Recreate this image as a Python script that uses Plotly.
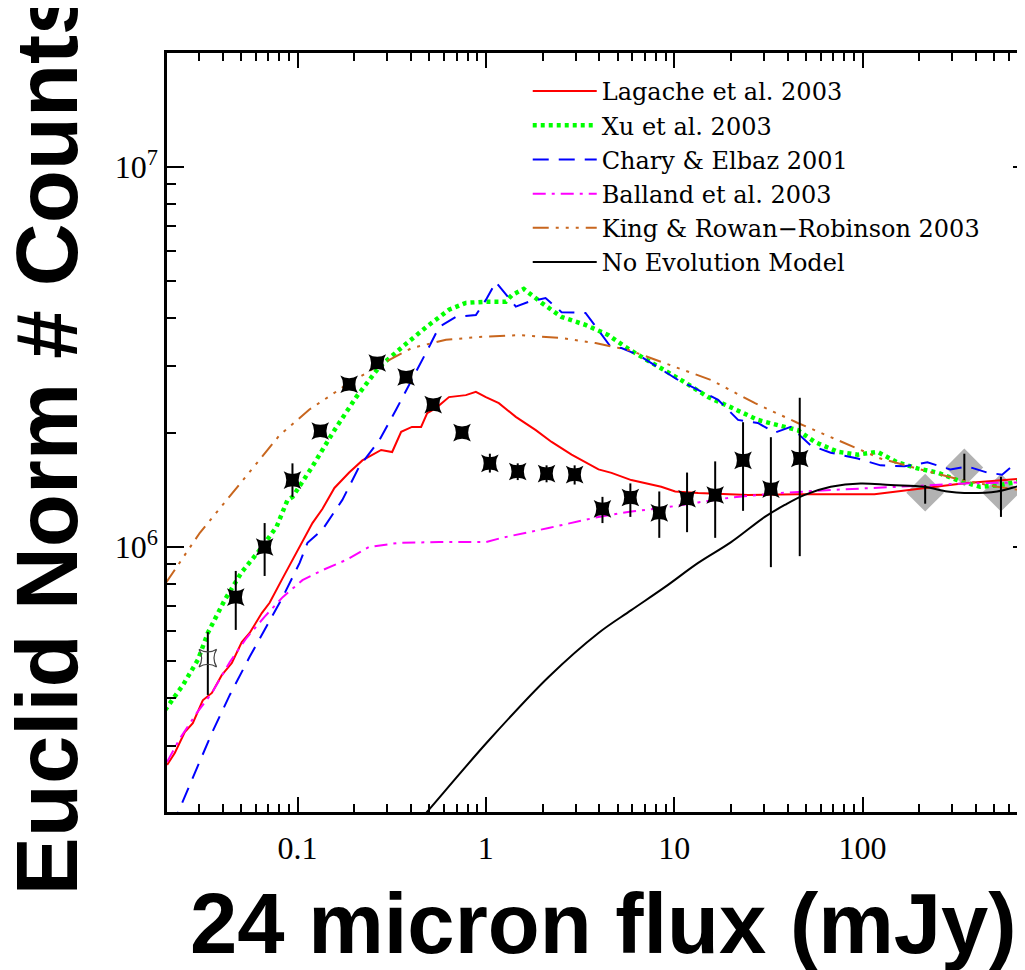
import plotly.graph_objects as go

# ---------------- data ----------------
lag_x = [0.0203, 0.0223, 0.0252, 0.0278, 0.0314, 0.0351, 0.0396, 0.0448, 0.0506, 0.0557,
         0.0646, 0.0711, 0.0834, 0.0989, 0.120, 0.1355, 0.157, 0.188, 0.221, 0.278,
         0.318, 0.355, 0.405, 0.453, 0.488, 0.543, 0.637, 0.783, 0.885, 1.0,
         1.172, 1.442, 1.841, 2.234, 2.851, 3.963, 4.645, 5.916, 8.531, 10.12,
         13.4, 24.66, 45.29, 115.6, 229.1, 346.7, 780]
lag_y = [2.67e5, 2.87e5, 3.26e5, 3.44e5, 3.95e5, 4.13e5, 4.60e5, 4.95e5, 5.62e5, 5.94e5,
         6.70e5, 7.13e5, 8.28e5, 9.64e5, 1.156e6, 1.259e6, 1.43e6, 1.57e6, 1.69e6, 1.80e6,
         1.778e6, 2.01e6, 2.07e6, 2.07e6, 2.25e6, 2.32e6, 2.48e6, 2.51e6, 2.56e6, 2.48e6,
         2.39e6, 2.20e6, 2.03e6, 1.89e6, 1.75e6, 1.60e6, 1.567e6, 1.50e6, 1.44e6, 1.40e6,
         1.387e6, 1.371e6, 1.377e6, 1.377e6, 1.439e6, 1.472e6, 1.52e6]

xu_x = [0.0198, 0.0247, 0.0296, 0.0334, 0.0411, 0.0506, 0.0630, 0.0774, 0.0885, 0.0942,
        0.120, 0.157, 0.205, 0.272, 0.360, 0.482, 0.637, 0.783, 1.0, 1.276,
        1.374, 1.589, 1.977, 2.523, 3.381, 4.477, 5.508, 6.457, 10.89, 15.14,
        20.04, 27.8, 38.64, 45.29, 55.72, 73.79, 94.2, 120, 153.1, 195.4,
        249.5, 318.4, 420.7, 537, 780]
xu_y = [3.72e5, 4.34e5, 5.05e5, 5.94e5, 7.26e5, 8.59e5, 9.82e5, 1.13e6, 1.33e6, 1.355e6,
        1.63e6, 2.03e6, 2.48e6, 2.98e6, 3.36e6, 3.79e6, 4.21e6, 4.39e6, 4.42e6, 4.42e6,
        4.60e6, 4.78e6, 4.39e6, 4.03e6, 3.84e6, 3.61e6, 3.36e6, 3.20e6, 2.75e6, 2.48e6,
        2.33e6, 2.16e6, 2.07e6, 2.03e6, 1.89e6, 1.78e6, 1.75e6, 1.78e6, 1.67e6, 1.61e6,
        1.57e6, 1.50e6, 1.44e6, 1.455e6, 1.51e6]

chary_x = [0.01905, 0.0232, 0.0278, 0.0351, 0.0437, 0.0557, 0.0668, 0.0834, 0.1026, 0.113,
           0.1355, 0.173, 0.213, 0.272, 0.334, 0.405, 0.499, 0.564, 0.693, 0.885,
           1.0, 1.13, 1.442, 1.69, 2.075, 2.523, 3.381, 3.963, 4.645, 5.248,
           6.457, 10.5, 13.4, 17.1, 21.83, 27.8, 34.2, 41.6, 53.09, 67.76,
           94.2, 124.5, 166.7, 220.8, 292.4, 359.7, 458.1, 550.8, 622.3, 703, 780]
chary_y = [1.59e5, 2.0e5, 2.48e5, 3.24e5, 4.08e5, 5.14e5, 6.05e5, 7.38e5, 9.08e5, 1.026e6,
           1.11e6, 1.33e6, 1.63e6, 1.91e6, 2.30e6, 2.75e6, 3.36e6, 3.79e6, 4.03e6, 4.08e6,
           4.47e6, 4.98e6, 4.29e6, 4.42e6, 4.52e6, 4.15e6, 4.13e6, 3.72e6, 3.34e6, 3.34e6,
           3.20e6, 2.75e6, 2.59e6, 2.44e6, 2.16e6, 2.12e6, 2.0e6, 2.07e6, 1.85e6, 1.77e6,
           1.71e6, 1.64e6, 1.63e6, 1.67e6, 1.60e6, 1.63e6, 1.57e6, 1.55e6, 1.63e6, 1.67e6, 1.66e6]

bal_x = [0.0203, 0.0238, 0.0292, 0.0351, 0.0437, 0.0537, 0.0668, 0.0834, 0.1062, 0.1355,
         0.1816, 0.240, 0.347, 0.564, 1.0, 1.216, 2.153, 3.963, 5.916, 8.954,
         13.4, 20.04, 36.81, 67.76, 153.1, 346.7, 780]
bal_y = [2.72e5, 3.14e5, 3.66e5, 4.13e5, 4.98e5, 5.77e5, 6.55e5, 7.38e5, 8.18e5, 8.69e5,
         9.25e5, 1.0e6, 1.026e6, 1.03e6, 1.03e6, 1.057e6, 1.122e6, 1.20e6, 1.24e6, 1.27e6,
         1.31e6, 1.35e6, 1.387e6, 1.413e6, 1.44e6, 1.47e6, 1.48e6]

king_x = [0.0200, 0.0303, 0.0421, 0.0804, 0.1156, 0.1816, 0.272, 0.405, 0.614, 0.918,
          1.496, 2.523, 3.819, 5.715, 15.7, 26.85, 45.29, 73.79, 124.5, 202.8,
          318.4, 517.6, 780]
king_y = [8.04e5, 1.09e6, 1.33e6, 1.97e6, 2.30e6, 2.67e6, 3.01e6, 3.34e6, 3.51e6, 3.57e6,
          3.61e6, 3.55e6, 3.44e6, 3.30e6, 2.75e6, 2.39e6, 2.12e6, 1.91e6, 1.71e6, 1.60e6,
          1.51e6, 1.44e6, 1.40e6]

noev_x = [0.398, 0.488, 1.038, 2.153, 3.963, 5.916, 8.954, 13.4, 20.04, 30.27,
          38.64, 49.32, 67.76, 97.5, 140.6, 212.8, 281.8, 346.7, 517.6, 703, 780]
noev_y = [1.79e5, 2.01e5, 3.10e5, 4.55e5, 5.94e5, 6.82e5, 7.85e5, 9.08e5, 1.03e6, 1.20e6,
          1.29e6, 1.371e6, 1.44e6, 1.47e6, 1.455e6, 1.44e6, 1.40e6, 1.387e6, 1.40e6, 1.455e6,
          1.47e6]

# measured counts (filled stars) with upper / lower error limits
star_x = [0.047, 0.0669, 0.094, 0.132, 0.188, 0.265, 0.377, 0.525, 0.747, 1.05,
          1.476, 2.1, 2.96, 4.16, 5.85, 8.33, 11.7, 16.5, 23.2, 32.6, 46.4]
star_y = [7.38e5, 1.0e6, 1.5e6, 2.02e6, 2.68e6, 3.05e6, 2.80e6, 2.37e6, 2.0e6, 1.66e6,
          1.58e6, 1.56e6, 1.55e6, 1.26e6, 1.35e6, 1.23e6, 1.34e6, 1.37e6, 1.69e6, 1.42e6, 1.71e6]
star_hi = [8.65e5, 1.156e6, 1.66e6, 2.08e6, 2.74e6, 3.12e6, 2.87e6, 2.43e6, 2.06e6, 1.76e6,
           1.66e6, 1.64e6, 1.64e6, 1.355e6, 1.47e6, 1.40e6, 1.57e6, 1.68e6, 2.13e6, 1.945e6, 2.47e6]
star_lo = [6.05e5, 8.39e5, 1.355e6, 1.96e6, 2.62e6, 2.98e6, 2.73e6, 2.31e6, 1.94e6, 1.57e6,
           1.50e6, 1.48e6, 1.46e6, 1.156e6, 1.20e6, 1.057e6, 1.094e6, 1.057e6, 1.245e6, 8.85e5, 9.46e5]

# open star (faintest bin)
ostar_x = [0.0334]
ostar_y = [5.1e5]
ostar_hi = [5.97e5]
ostar_lo = [4.08e5]

# bright-end points (grey diamonds)
dia_x = [215, 347, 543]
dia_y = [1.39e6, 1.62e6, 1.39e6]
dia_hi = [1.455e6, 1.76e6, 1.53e6]
dia_lo = [1.30e6, 1.50e6, 1.20e6]

x_tickvals = [0.1, 1, 10, 100]
x_ticktext = ["0.1", "1", "10", "100"]
y_tickvals = [1e6, 1e7]
y_ticktext = ["10<sup>6</sup>", "10<sup>7</sup>"]

series = [
    ("Lagache et al. 2003", lag_x, lag_y, "#ff0000", "solid", 2, "linear"),
    ("Xu et al. 2003", xu_x, xu_y, "#00ff00", "4px,4px", 4.5, "linear"),
    ("Chary & Elbaz 2001", chary_x, chary_y, "#0000ff", "16px,10px", 2, "linear"),
    ("Balland et al. 2003", bal_x, bal_y, "#ff00ff", "13px,6px,3px,6px", 2, "linear"),
    ("King & Rowan\u2212Robinson 2003", king_x, king_y, "#c8661e",
     "16px,7px,3px,7px,3px,7px,3px,7px", 2, "linear"),
    ("No Evolution Model", noev_x, noev_y, "#000000", "solid", 2, "spline"),
]


def err(y, hi, lo):
    return dict(type="data", symmetric=False,
                array=[h - v for h, v in zip(hi, y)],
                arrayminus=[v - l for v, l in zip(y, lo)],
                color="black", thickness=2, width=0)


fig = go.Figure()

# grey diamonds (under the model lines)
fig.add_trace(go.Scatter(x=dia_x, y=dia_y, mode="markers", showlegend=False,
                         marker=dict(symbol="diamond", size=29, color="rgb(178,178,178)",
                                     line=dict(width=0)), hoverinfo="skip"))

for name, xs, ys, col, dash, w, shape in series:
    fig.add_trace(go.Scatter(x=xs, y=ys, mode="lines", name=name,
                             line=dict(color=col, dash=dash, width=w, shape=shape)))

# error bars of the diamonds on top of them
fig.add_trace(go.Scatter(x=dia_x, y=dia_y, mode="markers", showlegend=False,
                         marker=dict(size=1, color="rgba(0,0,0,0)"),
                         error_y=err(dia_y, dia_hi, dia_lo)))

fig.add_trace(go.Scatter(x=ostar_x, y=ostar_y, mode="markers", showlegend=False,
                         marker=dict(symbol="star-square-open", size=16, color="#444444",
                                     line=dict(width=1.2, color="#444444")),
                         error_y=err(ostar_y, ostar_hi, ostar_lo)))

fig.add_trace(go.Scatter(x=star_x, y=star_y, mode="markers", showlegend=False,
                         marker=dict(symbol="star-square", size=16, color="black",
                                     line=dict(width=0)),
                         error_y=err(star_y, star_hi, star_lo)))

tickfont = dict(family="Liberation Serif, Times New Roman, serif", size=32, color="black")

fig.update_xaxes(type="log", range=[-1.693, 2.889],
                 tickmode="array", tickvals=x_tickvals, ticktext=x_ticktext,
                 ticks="inside", ticklen=15, tickwidth=2, tickcolor="black",
                 showline=True, linecolor="black", linewidth=2.5, mirror="ticks",
                 showgrid=False, zeroline=False, tickfont=tickfont, ticklabelstandoff=6,
                 minor=dict(ticks="inside", ticklen=8, tickwidth=1.5, tickcolor="black",
                            dtick="D1", showgrid=False))
fig.update_yaxes(type="log", range=[5.3026, 7.3],
                 tickmode="array", tickvals=y_tickvals, ticktext=y_ticktext,
                 ticks="inside", ticklen=17, tickwidth=2, tickcolor="black",
                 showline=True, linecolor="black", linewidth=2.5, mirror="ticks",
                 showgrid=False, zeroline=False, tickfont=tickfont,
                 minor=dict(ticks="inside", ticklen=9, tickwidth=1.5, tickcolor="black",
                            dtick="D1", showgrid=False))

fig.add_annotation(text="24 micron flux (mJy)", xref="paper", yref="paper",
                   x=0.5058, y=-0.1464, xanchor="center", yanchor="middle",
                   showarrow=False,
                   font=dict(family="Liberation Sans, Arial, sans-serif", size=85,
                             color="black", weight="bold"))
fig.add_annotation(text="Euclid Norm # Counts", xref="paper", yref="paper",
                   x=-0.1397, y=0.489, xanchor="center", yanchor="middle",
                   textangle=-90, showarrow=False,
                   font=dict(family="Liberation Sans, Arial, sans-serif", size=87,
                             color="black", weight="bold"))

fig.update_layout(
    width=1025, height=970,
    margin=dict(l=159, r=0, t=45, b=166),
    paper_bgcolor="white", plot_bgcolor="white",
    legend=dict(x=0.418, y=0.979, xanchor="left", yanchor="top",
                bgcolor="rgba(0,0,0,0)", borderwidth=0, itemwidth=64,
                font=dict(family="DejaVu Serif, serif", size=24, color="black"),
                tracegroupgap=0),
)

fig.write_html("out.html")
